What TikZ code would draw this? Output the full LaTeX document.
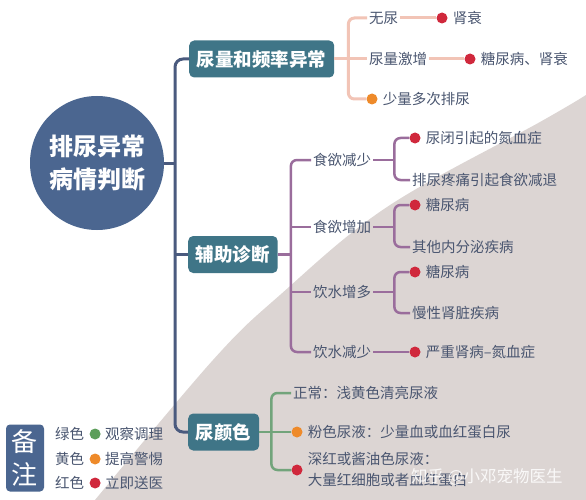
\documentclass[tikz,border=0pt]{standalone}
\usepackage{fontspec}
\setmainfont{Noto Sans CJK SC}
\usetikzlibrary{positioning, calc}

\definecolor{rootblue}{HTML}{4B6690}
\definecolor{boxteal}{HTML}{3F7587}
\definecolor{trunkblue}{HTML}{4A5A7E}
\definecolor{linkpink}{HTML}{F2C4B6}
\definecolor{linkpurple}{HTML}{9A6D9C}
\definecolor{linkgreen}{HTML}{72A47B}
\definecolor{alarm}{HTML}{D0283C}
\definecolor{warn}{HTML}{EE8A2A}
\definecolor{okgreen}{HTML}{5C9E5A}
\definecolor{ink}{HTML}{4A5670}
\definecolor{bggray}{HTML}{DCD5D3}

\begin{document}
\begin{tikzpicture}[x=1pt, y=-1pt,
    root/.style={circle, fill=rootblue, minimum size=134pt, inner sep=0pt, text=white, align=center, font=\fontsize{24}{33}\selectfont\bfseries},
    branch/.style={anchor=west, fill=boxteal, rounded corners=5pt, minimum height=37pt, inner xsep=7.75pt, text=white, font=\fontsize{18.5}{22}\selectfont\bfseries},
    legendbox/.style={fill=rootblue, rounded corners=4pt, minimum width=38pt, minimum height=67pt, inner sep=0pt, text=white, align=center, font=\fontsize{26}{33}\selectfont},
    leaf/.style={anchor=west, inner sep=2pt, text=ink, font=\fontsize{14.5}{18}\selectfont},
    bullet/.style={circle, minimum size=11pt, inner sep=0pt},
    trunk/.style={draw=trunkblue, line width=3pt},
    pinkline/.style={draw=linkpink, line width=3pt},
    purpleline/.style={draw=linkpurple, line width=2.5pt},
    greenline/.style={draw=linkgreen, line width=2.5pt}
]

    % Background
    \useasboundingbox (0,0) rectangle (586,500);
    \fill[white] (0,0) rectangle (586,500);
    \fill[bggray] plot[smooth, tension=0.6] coordinates {(95,500) (213,360) (280,295) (387,207) (540,122) (586,95)} -- (586,500) -- cycle;

    % Root and main branches
    \node[root] (root) at (97,163) {排尿异常\\病情判断};
    \node[branch] (B1) at (189,59) {尿量和频率异常};
    \node[branch] (B2) at (188,254.5) {辅助诊断};
    \node[branch] (B3) at (188,432) {尿颜色};

    \coordinate (T) at (175,163);
    \draw[trunk, rounded corners=8pt] (B1.west) -| (T) |- (B3.west);
    \draw[trunk] (root.east) -- (T);
    \draw[trunk] (T |- B2.west) -- (B2.west);

    % Branch 1: urine volume and frequency
    \node[leaf] (u1) at (367,18) {无尿};
    \node[bullet, fill=alarm] (u1d) at (442,18) {};
    \node[leaf, right=3pt of u1d] (u1t) {肾衰};
    \node[leaf] (u2) at (367,59) {尿量激增};
    \node[bullet, fill=alarm] (u2d) at (470,59) {};
    \node[leaf, right=3pt of u2d] (u2t) {糖尿病、肾衰};
    \node[bullet, fill=warn] (u3d) at (372,99) {};
    \node[leaf, right=3pt of u3d] (u3t) {少量多次排尿};

    \coordinate (j1) at ($(B1.east)+(14,0)$);
    \draw[pinkline, rounded corners=6pt] (u1.west) -| (j1) |- (u3d.west);
    \draw[pinkline] (B1.east) -- (u2.west);
    \draw[pinkline] (u1) -- (u1d);
    \draw[pinkline] (u2) -- (u2d);

    % Branch 2: auxiliary diagnosis
    \node[leaf] (g1) at (311,160) {食欲减少};
    \node[leaf] (g2) at (311,227) {食欲增加};
    \node[leaf] (g3) at (311,292) {饮水增多};
    \node[leaf] (g4) at (311,352) {饮水减少};

    \coordinate (j2) at ($(B2.east)+(13,0)$);
    \draw[purpleline] (B2.east) -- (j2);
    \draw[purpleline, rounded corners=6pt] (g1.west) -| (j2) |- (g4.west);
    \draw[purpleline] (j2 |- g2.west) -- (g2.west);
    \draw[purpleline] (j2 |- g3.west) -- (g3.west);

    \node[bullet, fill=alarm] (g1d) at (415,138) {};
    \node[leaf, right=3pt of g1d] (g1a) {尿闭引起的氮血症};
    \node[leaf] (g1b) at (410,180) {排尿疼痛引起食欲减退};
    \coordinate (k1) at ($(g1.east)+(21,0)$);
    \draw[purpleline] (g1) -- (k1);
    \draw[purpleline, rounded corners=6pt] (g1d.west) -| (k1) |- (g1b.west);

    \node[bullet, fill=alarm] (g2d) at (415,205) {};
    \node[leaf, right=3pt of g2d] (g2a) {糖尿病};
    \node[leaf] (g2b) at (410,247) {其他内分泌疾病};
    \coordinate (k2) at ($(g2.east)+(21,0)$);
    \draw[purpleline] (g2) -- (k2);
    \draw[purpleline, rounded corners=6pt] (g2d.west) -| (k2) |- (g2b.west);

    \node[bullet, fill=alarm] (g3d) at (415,272) {};
    \node[leaf, right=3pt of g3d] (g3a) {糖尿病};
    \node[leaf] (g3b) at (410,313) {慢性肾脏疾病};
    \coordinate (k3) at ($(g3.east)+(21,0)$);
    \draw[purpleline] (g3) -- (k3);
    \draw[purpleline, rounded corners=6pt] (g3d.west) -| (k3) |- (g3b.west);

    \node[bullet, fill=alarm] (g4d) at (415,352) {};
    \node[leaf, right=3pt of g4d] (g4t) {严重肾病–氮血症};
    \draw[purpleline] (g4) -- (g4d);

    % Branch 3: urine colour
    \node[leaf] (c1) at (291,393) {正常：浅黄色清亮尿液};
    \node[bullet, fill=warn] (c2d) at (297,432) {};
    \node[leaf, right=3pt of c2d] (c2t) {粉色尿液：少量血或血红蛋白尿};
    \node[bullet, fill=alarm] (c3d) at (297,470) {};
    \node[leaf, right=3pt of c3d, align=left, font=\fontsize{14.5}{21}\selectfont] (c3t) {深红或酱油色尿液：\\大量红细胞或者血红蛋白};

    \coordinate (j3) at ($(B3.east)+(12,0)$);
    \draw[greenline, rounded corners=6pt] (c1.west) -| (j3) |- (c3d.west);
    \draw[greenline] (B3.east) -- (c2d.west);

    % Legend
    \node[legendbox] (note) at (25,458) {备\\注};
    \node[leaf] (n1) at (53,434) {绿色};
    \node[bullet, fill=okgreen, right=3pt of n1] (n1d) {};
    \node[leaf, right=2pt of n1d] (n1t) {观察调理};
    \node[leaf] (n2) at (53,459) {黄色};
    \node[bullet, fill=warn, right=3pt of n2] (n2d) {};
    \node[leaf, right=2pt of n2d] (n2t) {提高警惕};
    \node[leaf] (n3) at (53,483) {红色};
    \node[bullet, fill=alarm, right=3pt of n3] (n3d) {};
    \node[leaf, right=2pt of n3d] (n3t) {立即送医};

    % Watermark
    \node[anchor=west, inner sep=0pt, text=white, opacity=0.85, font=\fontsize{16.5}{20}\selectfont] (wm) at (411,477) {知乎 @小邓宠物医生};

\end{tikzpicture}
\end{document}
